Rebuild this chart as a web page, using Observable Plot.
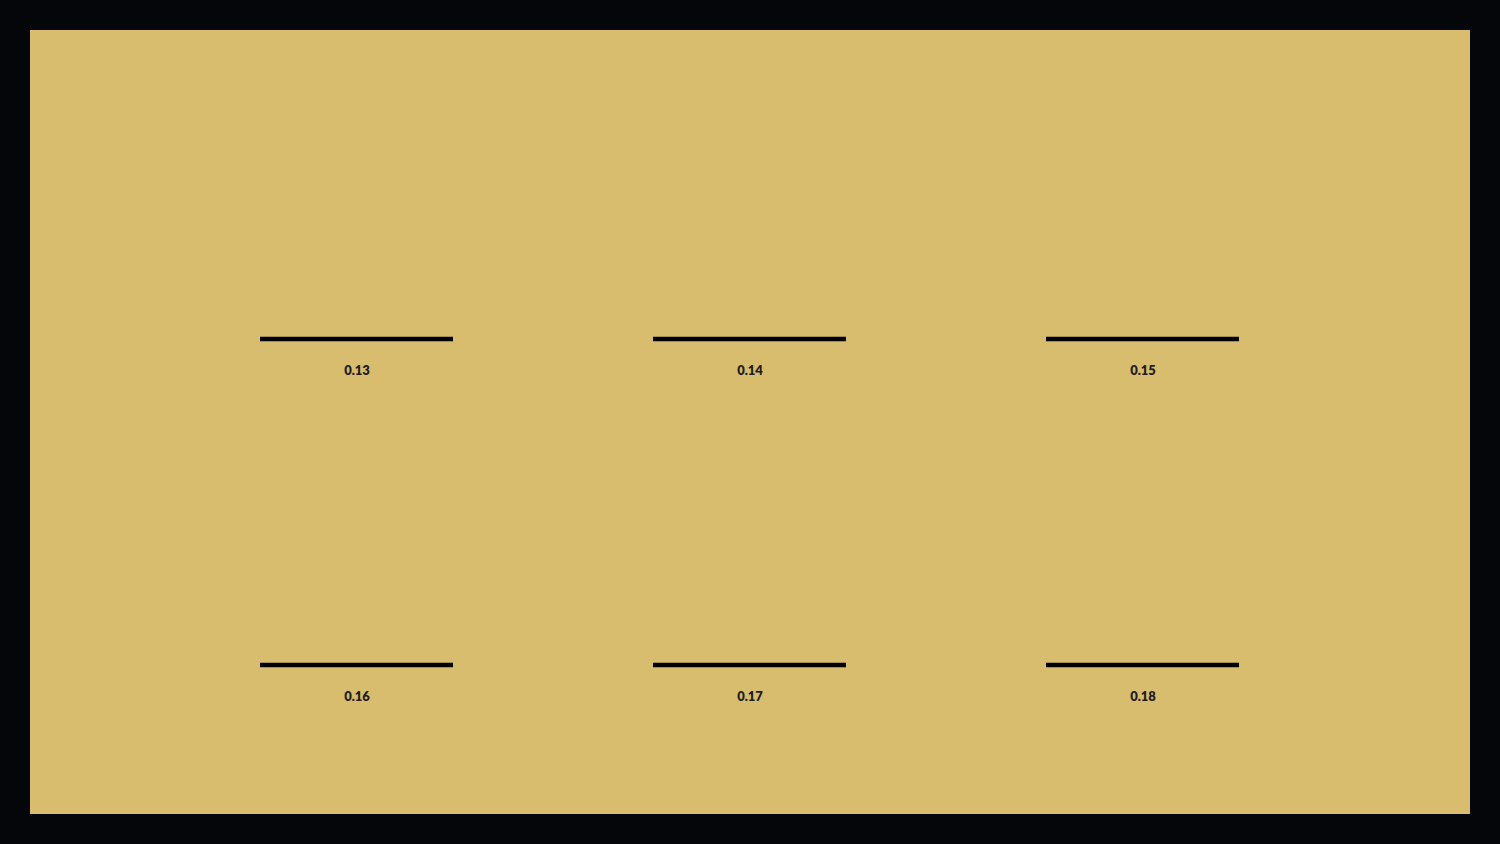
<!DOCTYPE html>
<html>
<head>
<meta charset="utf-8">
<script src="https://cdn.jsdelivr.net/npm/d3@7"></script>
<script src="https://cdn.jsdelivr.net/npm/@observablehq/plot@0.6"></script>
<style>
  html, body { margin: 0; padding: 0; background: #05060a; width: 1500px; height: 844px; overflow: hidden; }
  #panel { position: absolute; left: 30px; top: 30px; width: 1440px; height: 784px; background: #d9bd6f; }
  #panel svg { display: block; }
</style>
</head>
<body>
<div id="panel"></div>
<script>
const labels = ["0.13", "0.14", "0.15", "0.16", "0.17", "0.18"];
const cols = [0, 1, 2, 0, 1, 2];
const rows = [0, 0, 0, 1, 1, 1];

const data = labels.map((label, i) => ({label, col: cols[i], row: rows[i]}));

const chart = Plot.plot({
  width: 1440,
  height: 784,
  margin: 0,
  style: {background: "transparent", overflow: "visible"},
  x: {type: "band", domain: [0, 1, 2], range: [129.25, 1309.75], paddingInner: 0.51, paddingOuter: 0.255, axis: null},
  y: {domain: [0, 1], range: [308.5, 634.5], axis: null},
  marks: [
    Plot.tickY(data, {x: "col", y: "row", stroke: "#000", strokeWidth: 4.5}),
    Plot.text(data, {
      x: "col", y: "row", text: "label", dy: 32,
      fill: "#1e1e1e", fontSize: 13, fontWeight: 800,
      fontFamily: "Lato, 'Open Sans', sans-serif"
    })
  ]
});
document.getElementById("panel").appendChild(chart);
</script>
</body>
</html>
